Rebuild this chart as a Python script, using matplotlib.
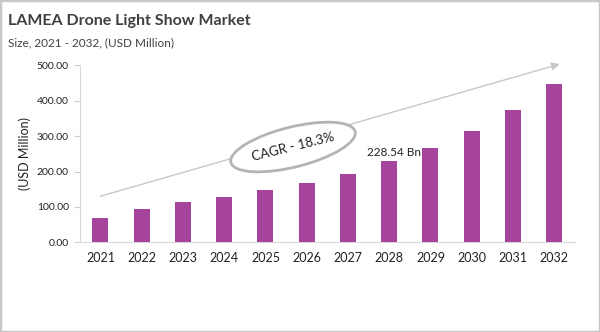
import numpy as np
import matplotlib.pyplot as plt
from matplotlib.patches import Ellipse, Rectangle
from matplotlib.transforms import IdentityTransform

plt.rcParams['font.family'] = ['Lato', 'DejaVu Sans']

years = ["2021", "2022", "2023", "2024", "2025", "2026",
         "2027", "2028", "2029", "2030", "2031", "2032"]
market_size = [68, 95, 114, 128, 147, 167, 194, 228.54, 267, 314, 375, 448]
yticks = [0, 100, 200, 300, 400, 500]
label_year = "2028"
label_text = "228.54 Bn"
cagr_text = "CAGR - 18.3%"

bar_color = "#a6449b"
text_color = "#404040"

fig = plt.figure(figsize=(6, 3.32), dpi=100)
ax = fig.add_axes([0.133, 0.270, 0.825, 0.533])

x = np.arange(len(years))
ax.bar(x, market_size, width=0.39, color=bar_color, zorder=3)

ax.set_xlim(-0.5, len(years) - 0.5)
ax.set_ylim(0, 500)
ax.set_xticks(x)
ax.set_xticklabels(years, fontsize=9, color="#222222")
ax.set_yticks(yticks)
ax.set_yticklabels([f"{v:.2f}" for v in yticks], fontsize=7.5, color="#222222")
ax.tick_params(axis="x", length=0, pad=7)
ax.tick_params(axis="y", length=4, color="#d0d0d0", pad=4)

for side in ["top", "right"]:
    ax.spines[side].set_visible(False)
ax.spines["left"].set_color("#d9d9d9")
ax.spines["bottom"].set_color("#d9d9d9")

ax.set_ylabel("(USD Million)", fontsize=9, color="#222222", labelpad=4)

# trend arrow
ax.annotate("", xy=(11.2, 506), xytext=(-0.07, 128),
            arrowprops=dict(arrowstyle="-|>", color="#c8c8c8", lw=1,
                            mutation_scale=12),
            annotation_clip=False, zorder=2)

# value label
i = years.index(label_year)
ax.text(x[i] + 0.12, market_size[i] + 10, label_text, fontsize=8.5,
        ha="center", va="bottom", color="#222222", zorder=4)

# CAGR ellipse (figure pixels)
ell = Ellipse((293, 332 - 147), 128, 40, angle=14, transform=IdentityTransform(),
              facecolor="white", edgecolor="#b4b4b4", lw=2, zorder=5)
fig.patches.append(ell)
fig.text(293 / 600, (332 - 147) / 332, cagr_text, fontsize=9.5, rotation=14,
         ha="center", va="center", color="#222222", zorder=6)

# titles
fig.text(0.013, 0.925, "LAMEA Drone Light Show Market", fontsize=11.5,
         fontweight="bold", color=text_color)
fig.text(0.013, 0.862, "Size, 2021 - 2032, (USD Million)", fontsize=8.5,
         color=text_color)

# outer border
fig.patches.append(Rectangle((0, 0), 1, 1, transform=fig.transFigure,
                             fill=False, edgecolor="#c8c8c8", lw=2.5))

fig.savefig("out.png", dpi=100)
